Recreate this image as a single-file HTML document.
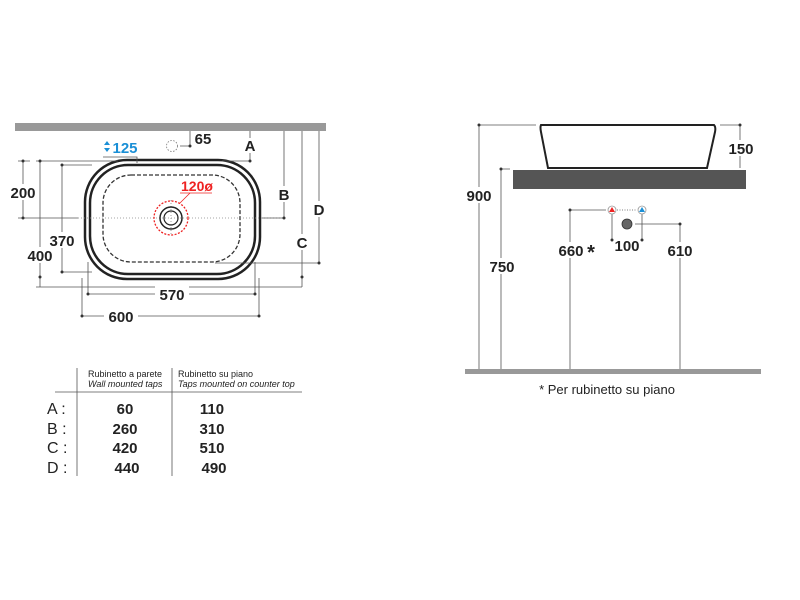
<!DOCTYPE html>
<html><head><style>html,body{margin:0;padding:0;background:#fff}svg{display:block}</style></head><body>
<svg width="800" height="600" viewBox="0 0 800 600" xmlns="http://www.w3.org/2000/svg" font-family="Liberation Sans, sans-serif">
<g fill="#999"><rect x="15" y="123" width="311" height="8"/><rect x="465" y="369" width="296" height="5"/></g>
<!-- plan view -->
<rect x="85" y="160" width="175" height="119" rx="42" fill="none" stroke="#222" stroke-width="2.5"/>
<rect x="90" y="165" width="165" height="109" rx="38" fill="none" stroke="#222" stroke-width="2.5"/>
<rect x="103" y="175" width="137" height="87" rx="28" fill="none" stroke="#333" stroke-width="1.3" stroke-dasharray="4,2"/>
<line x1="78" y1="218" x2="285" y2="218" stroke="#888" stroke-width="0.8" stroke-dasharray="1,2"/>
<line x1="171" y1="200" x2="171" y2="236" stroke="#888" stroke-width="0.8" stroke-dasharray="1,2"/>
<circle cx="171" cy="218" r="17" fill="none" stroke="#e22" stroke-width="1.3" stroke-dasharray="2,1.5"/>
<circle cx="171" cy="218" r="11" fill="none" stroke="#222" stroke-width="1.5"/>
<circle cx="171" cy="218" r="7" fill="none" stroke="#222" stroke-width="1.2"/>
<line x1="180" y1="203" x2="190" y2="193" stroke="#e22" stroke-width="0.8"/>
<line x1="180" y1="193" x2="212" y2="193" stroke="#e22" stroke-width="0.8"/>
<text x="181" y="191" font-size="14" font-weight="bold" fill="#e22">120ø</text>
<g stroke="#555" stroke-width="0.8" fill="none">
<path d="M23 161V218M18 161H30M18 218H78"/>
<path d="M40 161V287M36 161H118M36 287H302"/>
<path d="M62 165V272M62 165H92M62 272H92"/>
<path d="M88 262V294H255V262"/>
<path d="M82 278V316H259V278"/>
<path d="M190 131V146H180"/>
<path d="M250 131V161H222"/>
<path d="M284 131V218H262"/>
<path d="M302 131V287"/>
<path d="M319 131V263H215"/>
<path d="M103 157H137V163"/>
</g>
<circle cx="172" cy="146" r="5.5" fill="none" stroke="#777" stroke-width="0.8" stroke-dasharray="1.5,1.5"/>
<g fill="#333"><circle cx="23" cy="161" r="1.5"/><circle cx="23" cy="218" r="1.5"/><circle cx="40" cy="161" r="1.5"/><circle cx="40" cy="277" r="1.5"/><circle cx="62" cy="165" r="1.5"/><circle cx="62" cy="272" r="1.5"/><circle cx="88" cy="294" r="1.5"/><circle cx="255" cy="294" r="1.5"/><circle cx="82" cy="316" r="1.5"/><circle cx="259" cy="316" r="1.5"/><circle cx="190" cy="146" r="1.5"/><circle cx="250" cy="161" r="1.5"/><circle cx="284" cy="218" r="1.5"/><circle cx="302" cy="277" r="1.5"/><circle cx="319" cy="263" r="1.5"/></g>
<g font-size="15" font-weight="bold" fill="#222" text-anchor="middle">
<rect x="8" y="184" width="30" height="16" fill="#fff"/><text x="23" y="198">200</text>
<rect x="24" y="247" width="32" height="16" fill="#fff"/><text x="40" y="261">400</text>
<rect x="46" y="232" width="32" height="16" fill="#fff"/><text x="62" y="246">370</text>
<rect x="155" y="286" width="34" height="16" fill="#fff"/><text x="172" y="300">570</text>
<rect x="104" y="308" width="34" height="16" fill="#fff"/><text x="121" y="322">600</text>
<text x="203" y="144">65</text>
<rect x="244" y="138" width="13" height="15" fill="#fff"/><text x="250" y="151">A</text>
<rect x="278" y="186" width="13" height="16" fill="#fff"/><text x="284" y="200">B</text>
<rect x="296" y="234" width="13" height="16" fill="#fff"/><text x="302" y="248">C</text>
<rect x="313" y="201" width="13" height="16" fill="#fff"/><text x="319" y="215">D</text>
<text x="125" y="153" fill="#1a8fd6">125</text>
</g>
<path d="M104 145l3-4 3 4zM104 148l3 4 3-4z" fill="#1a8fd6"/>
<!-- table -->
<g stroke="#555" stroke-width="0.8"><line x1="77" y1="368" x2="77" y2="476"/><line x1="172" y1="368" x2="172" y2="476"/><line x1="55" y1="392" x2="302" y2="392"/></g>
<g font-size="9" fill="#222"><text x="88" y="377">Rubinetto a parete</text><text x="88" y="387" font-style="italic">Wall mounted taps</text><text x="178" y="377">Rubinetto su piano</text><text x="178" y="387" font-style="italic">Taps mounted on counter top</text></g>
<g font-size="16" fill="#222"><text x="47" y="414">A :</text><text x="47" y="434">B :</text><text x="47" y="453">C :</text><text x="47" y="473">D :</text></g>
<g font-size="15" font-weight="bold" fill="#222" text-anchor="middle"><text x="125" y="414">60</text><text x="125" y="434">260</text><text x="125" y="453">420</text><text x="127" y="473">440</text><text x="212" y="414">110</text><text x="212" y="434">310</text><text x="212" y="453">510</text><text x="214" y="473">490</text></g>
<!-- side view -->
<path d="M541 125H714Q716 127 715 132L707 168H548L541 132Q540 127 541 125Z" fill="#fff" stroke="#222" stroke-width="2"/>
<rect x="513" y="170" width="233" height="19" fill="#555"/>
<g stroke="#555" stroke-width="0.8" fill="none">
<path d="M536 125H479V369"/><path d="M510 169H501V369"/><path d="M720 125H740V168"/>
<path d="M570 210H606M570 210V369"/><path d="M617 210H637" stroke-dasharray="1,1.5"/>
<path d="M612 214V240M642 214V240"/><path d="M635 224H680V369"/>
</g>
<g fill="#333"><circle cx="479" cy="125" r="1.5"/><circle cx="501" cy="169" r="1.5"/><circle cx="740" cy="125" r="1.5"/><circle cx="570" cy="210" r="1.5"/><circle cx="680" cy="224" r="1.5"/><circle cx="612" cy="240" r="1.5"/><circle cx="642" cy="240" r="1.5"/></g>
<circle cx="612" cy="210" r="4" fill="#fff" stroke="#999" stroke-width="0.8"/><path d="M609 212l3-5 3 5z" fill="#e22"/>
<circle cx="642" cy="210" r="4" fill="#fff" stroke="#999" stroke-width="0.8"/><path d="M639 212l3-5 3 5z" fill="#1a8fd6"/>
<circle cx="627" cy="224" r="5" fill="#666" stroke="#333" stroke-width="0.8"/>
<g font-size="15" font-weight="bold" fill="#222" text-anchor="middle">
<rect x="464" y="187" width="30" height="16" fill="#fff"/><text x="479" y="201">900</text>
<rect x="486" y="258" width="30" height="16" fill="#fff"/><text x="502" y="272">750</text>
<rect x="725" y="140" width="30" height="16" fill="#fff"/><text x="741" y="154">150</text>
<rect x="556" y="242" width="40" height="16" fill="#fff"/><text x="571" y="256">660</text><text x="591" y="259" font-size="20">*</text>
<text x="627" y="251">100</text>
<rect x="665" y="242" width="30" height="16" fill="#fff"/><text x="680" y="256">610</text>
<text x="607" y="394" font-size="13" font-weight="normal">* Per rubinetto su piano</text>
</g>
</svg>
</body></html>
